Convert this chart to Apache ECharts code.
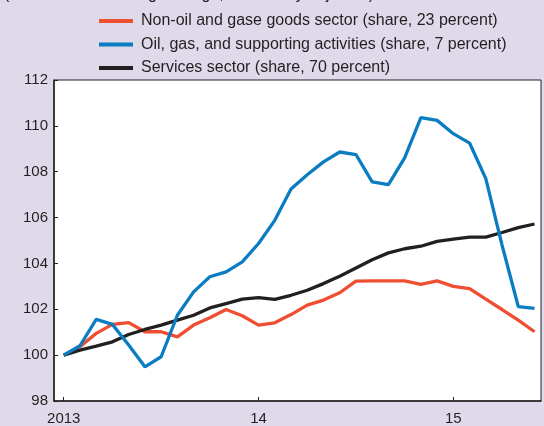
<!DOCTYPE html>
<html>
<head>
<meta charset="utf-8">
<script src="https://cdn.jsdelivr.net/npm/echarts@6/dist/echarts.min.js"></script>
<style>
  html, body { margin: 0; padding: 0; background: #dfdaea; }
  #chart { width: 544px; height: 426px; }
</style>
</head>
<body>
<div id="chart"></div>
<script>
// monthly, Jan 2013 .. Jun 2015
const months = [
  "2013-01", "2013-02", "2013-03", "2013-04", "2013-05", "2013-06",
  "2013-07", "2013-08", "2013-09", "2013-10", "2013-11", "2013-12",
  "2014-01", "2014-02", "2014-03", "2014-04", "2014-05", "2014-06",
  "2014-07", "2014-08", "2014-09", "2014-10", "2014-11", "2014-12",
  "2015-01", "2015-02", "2015-03", "2015-04", "2015-05", "2015-06",
];
const yearTicks = [0, 12, 24];
const yearLabels = ["2013", "14", "15"];

const nonOil = [
  100, 100.37, 100.95, 101.34, 101.42, 101.02, 101.02, 100.8, 101.31, 101.63,
  101.99, 101.72, 101.31, 101.41, 101.77, 102.18, 102.4, 102.72, 103.23, 103.24,
  103.24, 103.24, 103.09, 103.24, 103.0, 102.9, 102.44, 101.99, 101.53, 101.02,
];
const oilGas = [
  100, 100.41, 101.56, 101.34, 100.44, 99.49, 99.93, 101.74, 102.76, 103.42,
  103.63, 104.07, 104.87, 105.88, 107.25, 107.87, 108.43, 108.86, 108.75, 107.56,
  107.44, 108.6, 110.36, 110.24, 109.66, 109.25, 107.7, 104.8, 102.12, 102.04,
];
const services = [
  100, 100.22, 100.39, 100.58, 100.9, 101.12, 101.31, 101.53, 101.74, 102.06,
  102.25, 102.44, 102.51, 102.43, 102.61, 102.83, 103.12, 103.44, 103.8, 104.16,
  104.46, 104.64, 104.75, 104.96, 105.06, 105.15, 105.15, 105.35, 105.56, 105.72,
];

const names = [
  "Non-oil and gase goods sector (share, 23 percent)",
  "Oil, gas, and supporting activities (share, 7 percent)",
  "Services sector (share, 70 percent)",
];
const colors = ["#f04e30", "#0a7cc1", "#231f20"];

const FONT = "Liberation Sans";
const INK = "#231f20";

// month index on the x value axis
function pairs(values) {
  return values.map((v, i) => [months.indexOf(months[i]), v]);
}

const chart = echarts.init(document.getElementById("chart"), null, { renderer: "canvas" });

const lineSeries = (name, values, color, z) => ({
  name: name,
  type: "line",
  data: pairs(values),
  symbol: "none",
  z: z,
  lineStyle: { color: color, width: 3.3 },
  itemStyle: { color: color },
});

chart.setOption({
  backgroundColor: "#dfdaea",
  animation: false,
  textStyle: { fontFamily: FONT, color: INK },
  title: {
    text: "(Three-month moving average, seasonally adjusted)",
    left: 4,
    top: -13,
    padding: 0,
    textStyle: { fontFamily: FONT, fontSize: 16, fontWeight: "normal", color: INK },
  },
  legend: {
    data: names,
    orient: "vertical",
    left: 94,
    top: 8,
    itemWidth: 34,
    itemHeight: 4,
    itemGap: 7.5,
    icon: "rect",
    textStyle: { fontFamily: FONT, fontSize: 16, color: INK, padding: [0, 0, 0, 3], lineHeight: 16 },
  },
  grid: {
    left: 54,
    right: 3,
    top: 80,
    bottom: 24,
    show: true,
    backgroundColor: "#ffffff",
    borderColor: INK,
    borderWidth: 1,
  },
  xAxis: {
    type: "value",
    min: -0.6,
    max: 29.4,
    splitLine: { show: false },
    axisLine: { onZero: false, lineStyle: { color: INK, width: 1.5 } },
    axisTick: { inside: true, length: 4, customValues: yearTicks, lineStyle: { color: INK } },
    axisLabel: {
      customValues: yearTicks,
      formatter: (v) => yearLabels[yearTicks.indexOf(v)],
      fontFamily: FONT,
      fontSize: 15,
      color: INK,
      margin: 10,
    },
  },
  yAxis: {
    type: "value",
    min: 98,
    max: 112,
    interval: 2,
    splitLine: { show: false },
    axisLine: { show: true, onZero: false, lineStyle: { color: INK, width: 1.5 } },
    axisTick: { show: true, inside: true, length: 4, lineStyle: { color: INK } },
    axisLabel: { fontFamily: FONT, fontSize: 15, color: INK, margin: 6 },
  },
  series: [
    lineSeries(names[0], nonOil, colors[0], 2),
    lineSeries(names[2], services, colors[2], 3),
    lineSeries(names[1], oilGas, colors[1], 4),
  ],
});
</script>
</body>
</html>
